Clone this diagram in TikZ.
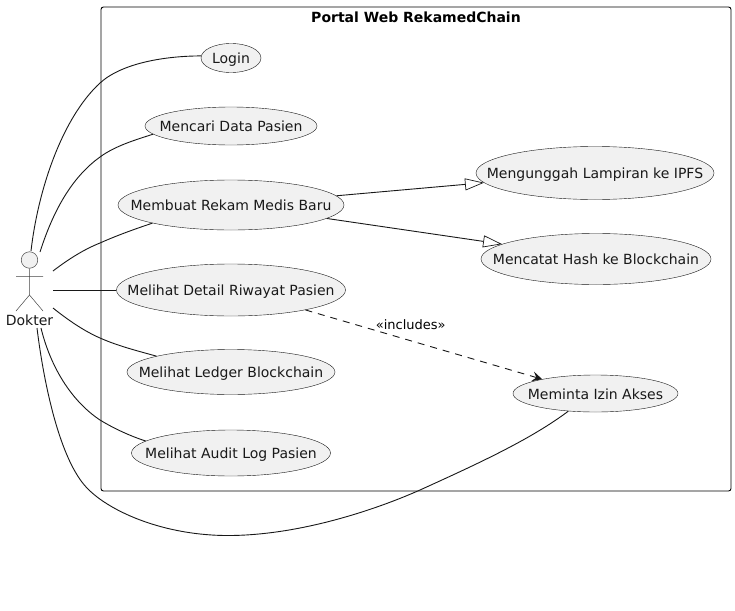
\documentclass[tikz,border=0pt]{standalone}
\usepackage{fontspec}
\setmainfont{DejaVu Sans}
\usetikzlibrary{shapes.geometric,arrows.meta}
\definecolor{ucfill}{HTML}{F1F1F1}
\definecolor{ucline}{HTML}{181818}
\newcommand{\uctext}[1]{\smash{\raisebox{-5.5pt}{\makebox[0pt]{#1}}}}
\tikzset{
  usecase/.style={ellipse,draw=ucline,line width=0.4pt,fill=ucfill,inner sep=0pt,text=black!90,font=\fontsize{14}{16}\selectfont},
  conn/.style={draw=ucline,line width=0.9pt},
  gen/.style={conn,-{Triangle[open,length=19pt,width=12pt,fill=white,line width=0.7pt]}},
  inc/.style={conn,dash pattern=on 7pt off 6pt,-{Stealth[length=10pt,width=10pt,inset=4pt]}},
  actorline/.style={draw=ucline!80,line width=0.5pt},
}
\begin{document}
\begin{tikzpicture}[x=1pt,y=-1pt]
\useasboundingbox (0,0) rectangle (735,610);
\fill[white] (0,0) rectangle (735,610);
\node[draw=black,line width=0.9pt,rounded corners=2.5pt,minimum width=630pt,minimum height=484pt,inner sep=0pt] (frame) at (416,249) {};
\node[font=\fontsize{14}{16}\selectfont\bfseries,inner sep=0pt] (title) at (416,17) {Portal Web RekamedChain};

\node[usecase,minimum width=60pt,minimum height=29pt] (login) at (231,58) {\uctext{Login}};
\node[usecase,minimum width=172pt,minimum height=38pt] (cari) at (231,126) {\uctext{Mencari Data Pasien}};
\node[usecase,minimum width=226pt,minimum height=50pt] (buat) at (231,205) {\uctext{Membuat Rekam Medis Baru}};
\node[usecase,minimum width=229pt,minimum height=52pt] (detail) at (231,290) {\uctext{Melihat Detail Riwayat Pasien}};
\node[usecase,minimum width=208pt,minimum height=45pt] (ledger) at (231,372) {\uctext{Melihat Ledger Blockchain}};
\node[usecase,minimum width=199pt,minimum height=46pt] (audit) at (231,453) {\uctext{Melihat Audit Log Pasien}};
\node[usecase,minimum width=238pt,minimum height=53pt] (unggah) at (595,173) {\uctext{Mengunggah Lampiran ke IPFS}};
\node[usecase,minimum width=230pt,minimum height=51pt] (catat) at (596,259) {\uctext{Mencatat Hash ke Blockchain}};
\node[usecase,minimum width=165pt,minimum height=37pt] (izin) at (595.5,393.5) {\uctext{Meminta Izin Akses}};

% actor
\node[circle,draw=ucline!80,line width=0.5pt,fill=ucfill,minimum size=16.5pt,inner sep=0pt] (head) at (29.5,260) {};
\coordinate (hip) at (29.5,295);
\coordinate (armL) at (16,276.5);
\coordinate (armR) at (43,276.5);
\coordinate (legL) at (16,311);
\coordinate (legR) at (43,311);
\draw[actorline] (head.south) -- (hip) (armL) -- (armR) (legL) -- (hip) -- (legR);
\node[font=\fontsize{14}{16}\selectfont,inner sep=0pt,text=black!90] (dokter) at (29.5,320.5) {Dokter};

\coordinate (a1) at (31,251);
\coordinate (a2) at (40,252);
\coordinate (a3) at (53,271);
\coordinate (a4) at (53,290);
\coordinate (a5) at (53,308);
\coordinate (a6) at (41,328);
\coordinate (a7) at (37,328);

\draw[conn] (a1) .. controls (38,190) and (62,118) .. (100,83) .. controls (122,63) and (165,56) .. (login.176);
\draw[conn] (a2) .. controls (55,205) and (75,175) .. (100,157) .. controls (115,146) and (135,140) .. (cari.186.6);
\draw[conn] (a3) .. controls (70,258) and (85,249) .. (100,243) .. controls (118,235) and (135,229) .. (buat.193);
\draw[conn] (a4) -- (detail.west);
\draw[conn] (a5) .. controls (68,320) and (84,331) .. (100,338) .. controls (118,346) and (138,351) .. (ledger.168);
\draw[conn] (a6) .. controls (50,365) and (70,400) .. (100,420) .. controls (113,428) and (130,436) .. (audit.172);
\draw[conn] (a7) .. controls (44,385) and (60,460) .. (87,488) .. controls (110,512) and (165,536) .. (230,535.5) .. controls (300,535) and (375,510) .. (420,490) .. controls (475,465) and (530,440) .. (izin.213);

\draw[gen] (buat.5.6) -- (unggah.185);
\draw[gen] (buat.352) -- (catat.171);
\draw[inc] (detail.345) -- node[pos=0.5,xshift=-13pt,yshift=20pt,font=\fontsize{13}{15}\selectfont,inner sep=0pt,text=black] (inclabel) {«includes»} (izin.165);
\end{tikzpicture}
\end{document}
